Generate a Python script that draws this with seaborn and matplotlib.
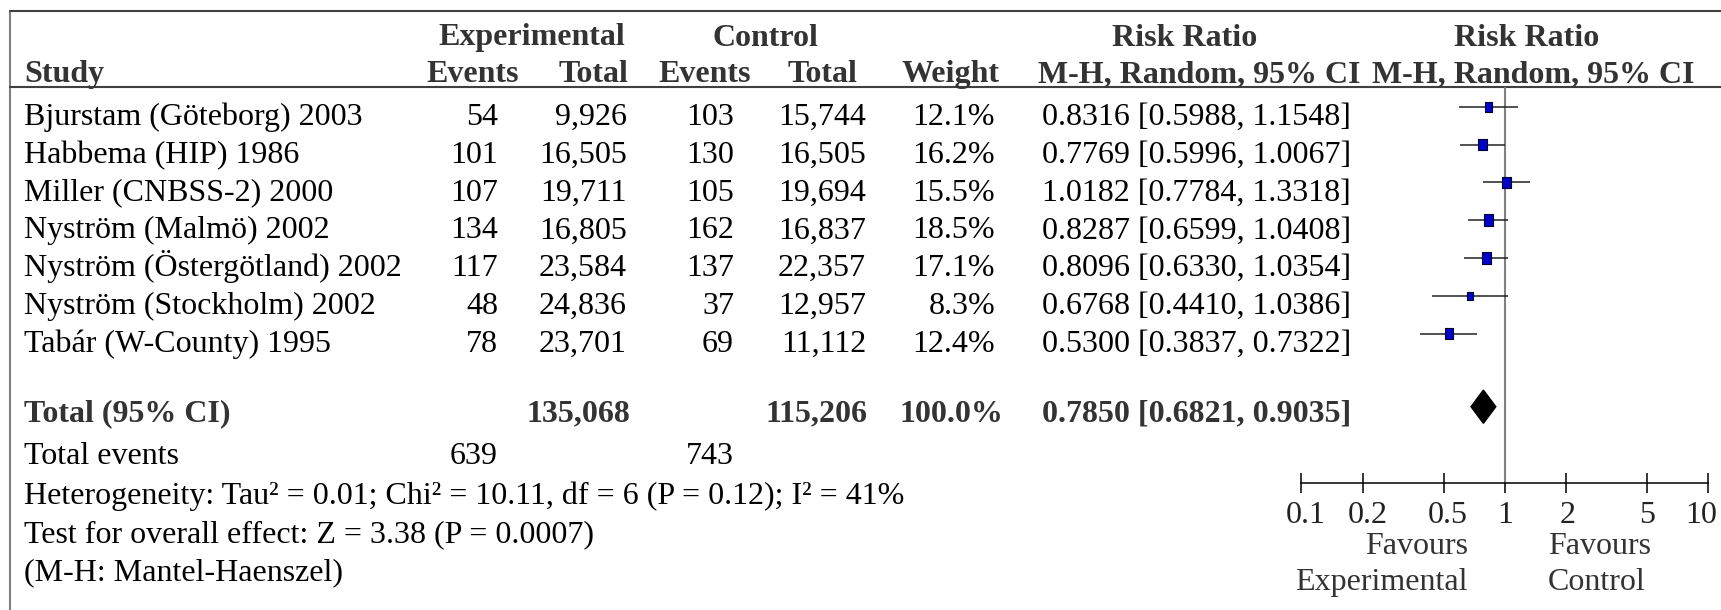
import numpy as np
import pandas as pd
import matplotlib
matplotlib.use("Agg")
import matplotlib.pyplot as plt
from matplotlib.path import Path
from matplotlib.ticker import FixedLocator, FixedFormatter, NullLocator
from matplotlib.transforms import ScaledTranslation
import seaborn as sns

# ---- data -------------------------------------------------------------
studies = [
    "Bjurstam (Göteborg) 2003",
    "Habbema (HIP) 1986",
    "Miller (CNBSS-2) 2000",
    "Nyström (Malmö) 2002",
    "Nyström (Östergötland) 2002",
    "Nyström (Stockholm) 2002",
    "Tabár (W-County) 1995",
]
exp_events = [54, 101, 107, 134, 117, 48, 78]
exp_total = [9926, 16505, 19711, 16805, 23584, 24836, 23701]
ctrl_events = [103, 130, 105, 162, 137, 37, 69]
ctrl_total = [15744, 16505, 19694, 16837, 22357, 12957, 11112]
weights = [12.1, 16.2, 15.5, 18.5, 17.1, 8.3, 12.4]
rr = [0.8316, 0.7769, 1.0182, 0.8287, 0.8096, 0.6768, 0.5300]
ci_lo = [0.5988, 0.5996, 0.7784, 0.6599, 0.6330, 0.4410, 0.3837]
ci_hi = [1.1548, 1.0067, 1.3318, 1.0408, 1.0354, 1.0386, 0.7322]

pooled_rr = 0.7850
pooled_lo = 0.6821
pooled_hi = 0.9035
pooled_weight = 100.0
sum_exp_total = 135068
sum_ctrl_total = 115206
sum_exp_events = 639
sum_ctrl_events = 743

tick_values = [0.1, 0.2, 0.5, 1, 2, 5, 10]
tick_labels = ["0.1", "0.2", "0.5", "1", "2", "5", "10"]

heterogeneity = "Heterogeneity: Tau² = 0.01; Chi² = 10.11, df = 6 (P = 0.12); I² = 41%"
overall = "Test for overall effect: Z = 3.38 (P = 0.0007)"
method_note = "(M-H: Mantel-Haenszel)"

# ---- style ------------------------------------------------------------
sns.set_theme(style="white")
plt.rcParams["font.family"] = ["Liberation Serif", "DejaVu Serif"]
FS = 23
HEAD = "#333333"

W, H = 1721, 610
fig = plt.figure(figsize=(W / 100, H / 100), dpi=100)

# Table layer in pixel units (origin top-left)
tab = fig.add_axes([0, 0, 1, 1])
tab.set_xlim(0, W)
tab.set_ylim(H, 0)
tab.axis("off")

def txt(x, y, s, ha="left", bold=False, color="black"):
    tab.text(x, y, s, ha=ha, va="baseline", fontsize=FS,
             fontweight="bold" if bold else "normal", color=color)

# frame and header rules
tab.plot([10, 10], [11, H], color="#808080", lw=1.5)
tab.plot([10, W], [11, 11], color="#404040", lw=1.5)
tab.plot([10, W], [87, 87], color="#404040", lw=1.5)

# column anchors (pixels)
X_STUDY = 24
X_EE, X_ET, X_CE, X_CT, X_W = 498, 627, 734, 866, 995
X_RR = 1042

# header
h1, h2 = 45.5, 82
txt(532, h1, "Experimental", ha="center", bold=True, color=HEAD)
txt(765, h1, "Control", ha="center", bold=True, color=HEAD)
txt(1185, h1, "Risk Ratio", ha="center", bold=True, color=HEAD)
txt(1527, h1, "Risk Ratio", ha="center", bold=True, color=HEAD)
txt(X_STUDY, h2, "Study", bold=True, color=HEAD)
txt(473, h2, "Events", ha="center", bold=True, color=HEAD)
txt(628, h2, "Total", ha="right", bold=True, color=HEAD)
txt(705, h2, "Events", ha="center", bold=True, color=HEAD)
txt(857, h2, "Total", ha="right", bold=True, color=HEAD)
txt(999, h2, "Weight", ha="right", bold=True, color=HEAD)
txt(1038, h2, "M-H, Random, 95% CI", bold=True, color=HEAD)
txt(1372, h2, "M-H, Random, 95% CI", bold=True, color=HEAD)

# study rows
ROW0, STEP = 125, 37.8
for i, name in enumerate(studies):
    y = ROW0 + STEP * i
    txt(X_STUDY, y, name)
    txt(X_EE, y, f"{exp_events[i]}", ha="right")
    txt(X_ET, y, f"{exp_total[i]:,}", ha="right")
    txt(X_CE, y, f"{ctrl_events[i]}", ha="right")
    txt(X_CT, y, f"{ctrl_total[i]:,}", ha="right")
    txt(X_W, y, f"{weights[i]:.1f}%", ha="right")
    txt(X_RR, y, f"{rr[i]:.4f} [{ci_lo[i]:.4f}, {ci_hi[i]:.4f}]")

# pooled row
yt = 421.5
txt(X_STUDY, yt, "Total (95% CI)", bold=True, color=HEAD)
txt(X_ET + 3, yt, f"{sum_exp_total:,}", ha="right", bold=True, color=HEAD)
txt(X_CT + 1, yt, f"{sum_ctrl_total:,}", ha="right", bold=True, color=HEAD)
txt(X_W + 8, yt, f"{pooled_weight:.1f}%", ha="right", bold=True, color=HEAD)
txt(X_RR, yt, f"{pooled_rr:.4f} [{pooled_lo:.4f}, {pooled_hi:.4f}]", bold=True, color=HEAD)

txt(X_STUDY, 464, "Total events")
txt(X_EE, 464, f"{sum_exp_events}", ha="right")
txt(X_CE, 464, f"{sum_ctrl_events}", ha="right")
txt(X_STUDY, 504, heterogeneity)
txt(X_STUDY, 542, overall)
txt(X_STUDY, 580, method_note)

# favours captions under the scale
txt(1468, 554, "Favours", ha="right", color=HEAD)
txt(1468, 590, "Experimental", ha="right", color=HEAD)
txt(1548, 554, "Favours", color=HEAD)
txt(1548, 590, "Control", color=HEAD)

# ---- forest panel -----------------------------------------------------
px_left, px_right = 1301.3, 1708.3
px_top, px_axis = 87, 482.7
row_c0 = 106.7
ax = fig.add_axes([px_left / W, (H - px_axis) / H,
                   (px_right - px_left) / W, (px_axis - px_top) / H])
ax.set_facecolor("none")
ax.set_xscale("log")
ax.set_xlim(0.1, 10)
ax.set_ylim((px_axis - row_c0) / STEP, (px_top - row_c0) / STEP)

df = pd.DataFrame({"rr": rr, "lo": ci_lo, "hi": ci_hi,
                   "weight": weights, "row": np.arange(len(studies))})

ax.axvline(1, color="#808080", lw=1.5, zorder=1)
ax.hlines(df["row"], df["lo"], df["hi"], color="#222222", lw=1.1, zorder=2)

rect = Path([(-0.75, -1), (0.75, -1), (0.75, 1), (-0.75, 1), (-0.75, -1)],
            [Path.MOVETO, Path.LINETO, Path.LINETO, Path.LINETO, Path.CLOSEPOLY])
k = 4.36
sns.scatterplot(data=df, x="rr", y="row", size="weight",
                sizes=(k * min(weights), k * max(weights)),
                marker=rect, color="#0000C8", edgecolor="#000033",
                linewidth=0.8, legend=False, ax=ax, zorder=3)

# pooled estimate diamond
prow = (406.7 - row_c0) / STEP
hh = 0.44
ax.fill([pooled_lo, pooled_rr, pooled_hi, pooled_rr],
        [prow, prow - hh, prow, prow + hh], color="black", zorder=3)

for side in ("top", "left", "right"):
    ax.spines[side].set_visible(False)
ax.spines["bottom"].set_color("black")
ax.spines["bottom"].set_linewidth(1.1)
ax.xaxis.set_major_locator(FixedLocator(tick_values))
ax.xaxis.set_major_formatter(FixedFormatter(tick_labels))
ax.xaxis.set_minor_locator(NullLocator())
ax.tick_params(axis="x", direction="inout", length=13.7, width=1.1,
               color="black", pad=6.5, labelsize=FS, labelcolor="#222222",
               bottom=True)
ax.set_yticks([])
ax.set_xlabel("")
ax.set_ylabel("")

# nudge the scale labels so the outer ones stay inside the frame
fig.canvas.draw()
label_shift_px = [4.5, 4.7, 4.6, 0.8, 1.2, 0.3, -7.0]
for tick, dx in zip(ax.xaxis.get_major_ticks(), label_shift_px):
    lbl = tick.label1
    lbl.set_transform(lbl.get_transform()
                      + ScaledTranslation(dx / 100, 0, fig.dpi_scale_trans))

fig.savefig("out.png", dpi=100)
